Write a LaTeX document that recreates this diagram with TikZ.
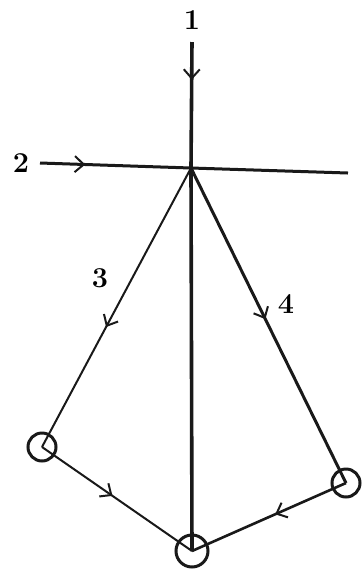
\documentclass[tikz,border=0pt]{standalone}
\usetikzlibrary{arrows.meta,decorations.markings}
\begin{document}
\begin{tikzpicture}[x=0.5pt,y=-0.5pt,
  line/.style={draw=black!90,line width=1pt},
  midarrow/.style={postaction={decorate},decoration={markings,
    mark=at position #1 with {\arrow{Straight Barb[length=4.5pt,width=8pt,line width=1pt]}}}},
  ring/.style={circle,draw=black!90,line width=1.5pt,minimum size=14pt,inner sep=0pt},
  lbl/.style={font=\Large\bfseries,inner sep=0pt}]
\useasboundingbox (0,0) rectangle (361,570);
\fill[white] (0,0) rectangle (361,570);
% points
\coordinate (top) at (192,42);
\coordinate (left) at (40,163);
\coordinate (right) at (348,173);
\coordinate (j) at (191,168);
\node[ring] (cl) at (42,447) {};
\node[ring] (cr) at (346,483) {};
\node[ring,minimum size=16pt] (cb) at (192,551) {};
% labels
\node[lbl] (l1) at (192,20) {1};
\node[lbl] (l2) at (21,163) {2};
\node[lbl] (l3) at (100,278) {3};
\node[lbl] (l4) at (286,304) {4};
% lines
\draw[line,line width=1.8pt,midarrow=0.3] (top) -- (j);
\draw[line,line width=1.8pt] (j) -- (cb.center);
\draw[line,line width=1.5pt,midarrow=0.3] (left) -- (j);
\draw[line,line width=1.5pt] (j) -- (right);
\draw[line,line width=1pt,midarrow=0.57] (j) -- (cl.center);
\draw[line,line width=1.5pt,midarrow=0.48] (j) -- (cr.center);
\draw[line,line width=1pt,midarrow=0.47] (cl.center) -- (cb.center);
\draw[line,line width=1.3pt,midarrow=0.46] (cr.center) -- (cb.center);
\end{tikzpicture}
\end{document}
